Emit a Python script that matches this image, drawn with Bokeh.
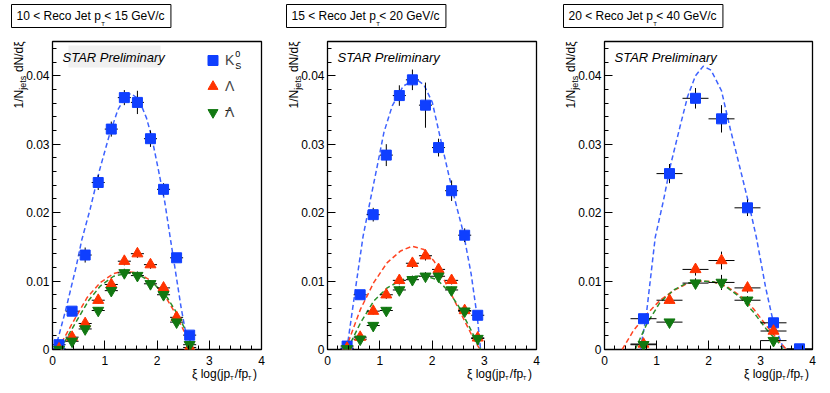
from bokeh.plotting import figure
from bokeh.models import Range1d, FixedTicker, Label, Legend, LegendItem, BoxAnnotation
from bokeh.layouts import row
from bokeh.embed import file_html
from bokeh.resources import INLINE

FONT = "Liberation Sans"

# ---------------- axes ----------------
x_major_ticks = [0, 1, 2, 3, 4]
x_tick_labels = ["0", "1", "2", "3", "4"]
x_minor_ticks = [0.2, 0.4, 0.6, 0.8, 1.2, 1.4, 1.6, 1.8, 2.2, 2.4, 2.6, 2.8, 3.2, 3.4, 3.6, 3.8]
y_major_ticks = [0, 0.01, 0.02, 0.03, 0.04]
y_tick_labels = ["0", "0.01", "0.02", "0.03", "0.04"]
y_minor_ticks = [0.002, 0.004, 0.006, 0.008, 0.012, 0.014, 0.016, 0.018, 0.022, 0.024,
                 0.026, 0.028, 0.032, 0.034, 0.036, 0.038, 0.042, 0.044]

panel_titles = ["10 < Reco Jet p  < 15 GeV/c",
                "15 < Reco Jet p  < 20 GeV/c",
                "20 < Reco Jet p  < 40 GeV/c"]

# ---------------- panel 1: 10 < pT < 15 ----------------
p1_xi = [0.125, 0.375, 0.625, 0.875, 1.125, 1.375, 1.625, 1.875, 2.125, 2.375, 2.625]
p1_xerr = 0.125
p1_k0s = [0.0007, 0.0056, 0.0138, 0.0244, 0.0322, 0.0368, 0.0361, 0.0308, 0.0234, 0.0134, 0.0021]
p1_k0s_err = [0.0004, 0.0005, 0.0011, 0.0011, 0.0011, 0.0011, 0.0017, 0.0012, 0.0009, 0.0006, 0.0005]
p1_lam = [0.0001, 0.0018, 0.0038, 0.0072, 0.0095, 0.0129, 0.0140, 0.0124, 0.0090, 0.0047, 0.0003]
p1_lam_err = [0.0002, 0.0004, 0.0005, 0.0005, 0.0006, 0.0006, 0.0006, 0.0006, 0.0005, 0.0004, 0.0003]
p1_alam = [0.0000, 0.0012, 0.0030, 0.0057, 0.0086, 0.0112, 0.0108, 0.0096, 0.0080, 0.0040, 0.0007]
p1_alam_err = [0.0002, 0.0004, 0.0005, 0.0005, 0.0006, 0.0006, 0.0006, 0.0005, 0.0005, 0.0004, 0.0003]

p1_fit_k0s_x = [0.05, 0.25, 0.45, 0.56, 0.72, 0.9, 1.08, 1.25, 1.4, 1.5, 1.65, 1.8, 1.9,
                2.02, 2.15, 2.26, 2.36, 2.46, 2.56, 2.63]
p1_fit_k0s_y = [0.0, 0.0057, 0.0120, 0.0160, 0.0205, 0.0262, 0.0311, 0.0350, 0.0370, 0.0374,
                0.0366, 0.0338, 0.0310, 0.0265, 0.0215, 0.0160, 0.0111, 0.0062, 0.0020, 0.0]
p1_fit_lam_x = [0.1, 0.377, 0.664, 0.919, 1.17, 1.365, 1.62, 1.876, 2.13, 2.32, 2.51, 2.67]
p1_fit_lam_y = [0.0, 0.0038, 0.0076, 0.0098, 0.0111, 0.01145, 0.0112, 0.0101, 0.0081, 0.0057, 0.0028, 0.0]
p1_fit_alam_x = [0.15, 0.41, 0.695, 0.919, 1.17, 1.46, 1.68, 1.94, 2.195, 2.39, 2.58, 2.70]
p1_fit_alam_y = [0.0, 0.0035, 0.0072, 0.0093, 0.0107, 0.0112, 0.0108, 0.0096, 0.0076, 0.0052, 0.0023, 0.0]

# ---------------- panel 2: 15 < pT < 20 ----------------
p2_xi = [0.375, 0.625, 0.875, 1.125, 1.375, 1.625, 1.875, 2.125, 2.375, 2.625, 2.875]
p2_xerr = 0.125
p2_k0s = [0.0005, 0.0080, 0.0197, 0.0284, 0.0371, 0.0394, 0.0357, 0.0295, 0.0232, 0.0167, 0.0050]
p2_k0s_err = [0.0004, 0.0005, 0.0010, 0.0016, 0.0015, 0.0015, 0.0033, 0.0013, 0.0015, 0.0010, 0.0005]
p2_lam = [0.0002, 0.0018, 0.0056, 0.0080, 0.0101, 0.0126, 0.0137, 0.0117, 0.0101, 0.0057, 0.0017]
p2_lam_err = [0.0002, 0.0004, 0.0005, 0.0006, 0.0006, 0.0007, 0.0007, 0.0007, 0.0006, 0.0005, 0.0004]
p2_alam = [0.0001, 0.0015, 0.0035, 0.0057, 0.0087, 0.0102, 0.0107, 0.0107, 0.0087, 0.0056, 0.0016]
p2_alam_err = [0.0002, 0.0004, 0.0005, 0.0005, 0.0006, 0.0006, 0.0006, 0.0006, 0.0005, 0.0004, 0.0003]

p2_fit_k0s_x = [0.37, 0.5, 0.68, 0.824, 0.952, 1.079, 1.239, 1.45, 1.7, 1.85, 2.006, 2.165,
                2.324, 2.484, 2.60, 2.75, 2.87, 2.93]
p2_fit_k0s_y = [0.0, 0.0070, 0.0165, 0.0220, 0.0268, 0.0317, 0.0356, 0.0385, 0.0395, 0.0386,
                0.0361, 0.0307, 0.0254, 0.0205, 0.0171, 0.0110, 0.0045, 0.0]
p2_fit_lam_x = [0.345, 0.632, 0.887, 1.143, 1.40, 1.62, 1.845, 2.04, 2.23, 2.42, 2.61, 2.80, 2.92]
p2_fit_lam_y = [0.0, 0.0059, 0.0098, 0.0127, 0.0144, 0.0151, 0.0146, 0.0129, 0.0102, 0.0073, 0.0044, 0.0015, 0.0]
p2_fit_alam_x = [0.38, 0.632, 0.887, 1.143, 1.40, 1.655, 1.845, 2.10, 2.32, 2.51, 2.71, 2.93]
p2_fit_alam_y = [0.0, 0.0039, 0.0071, 0.0090, 0.0101, 0.0107, 0.0108, 0.0102, 0.0085, 0.0063, 0.0034, 0.0]

# ---------------- panel 3: 20 < pT < 40 ----------------
p3_xi = [0.75, 1.25, 1.75, 2.25, 2.75, 3.25, 3.75]
p3_xerr = 0.25
p3_k0s = [0.0045, 0.0257, 0.0367, 0.0337, 0.0207, 0.0039, 0.0001]
p3_k0s_err = [0.0006, 0.0014, 0.0015, 0.0020, 0.0012, 0.0006, 0.0002]
p3_xi_v0 = [0.75, 1.25, 1.75, 2.25, 2.75, 3.25]
p3_lam = [0.0008, 0.0072, 0.0117, 0.0130, 0.0090, 0.0027]
p3_lam_err = [0.0003, 0.0005, 0.0009, 0.0013, 0.0007, 0.0005]
p3_alam = [0.0007, 0.0040, 0.0097, 0.0098, 0.0072, 0.0013]
p3_alam_err = [0.0003, 0.0004, 0.0007, 0.0011, 0.0006, 0.0004]

p3_fit_k0s_x = [0.69, 0.8, 0.976, 1.135, 1.263, 1.45, 1.6, 1.75, 1.9, 2.05, 2.25, 2.41, 2.6,
                2.79, 2.92, 3.1, 3.25, 3.45]
p3_fit_k0s_y = [0.0, 0.0048, 0.0164, 0.0218, 0.0267, 0.0325, 0.0370, 0.0400, 0.0414, 0.0408,
                0.0378, 0.0325, 0.0267, 0.0208, 0.0164, 0.0090, 0.0039, 0.0]
p3_fit_lam_x = [0.34, 0.56, 0.817, 1.07, 1.33, 1.58, 1.84, 2.09, 2.35, 2.60, 2.86, 3.11, 3.37, 3.50]
p3_fit_lam_y = [0.0, 0.0028, 0.0052, 0.0072, 0.0086, 0.0096, 0.0100, 0.0099, 0.0092, 0.0079,
                0.0060, 0.0035, 0.0011, 0.0]
p3_fit_alam_x = [0.59, 0.817, 1.07, 1.33, 1.58, 1.84, 2.09, 2.35, 2.60, 2.86, 3.11, 3.37, 3.43]
p3_fit_alam_y = [0.0, 0.0038, 0.0069, 0.0087, 0.0097, 0.0100, 0.0099, 0.0091, 0.0077, 0.0055,
                 0.0030, 0.0008, 0.0]

K0S_COLOR = "#0f3fff"
LAM_COLOR = "#ff3300"
ALAM_COLOR = "#117811"
K0S_FIT = "#3d62ff"
LAM_FIT = "#ff4422"
ALAM_FIT = "#2a8f2a"

FT = 41     # frame top (canvas px)
FB = 349    # frame bottom (canvas px)


def frame_text(p, x, y, text, size="12px", style="normal"):
    p.add_layout(Label(x=x, y=y, x_units="screen", y_units="screen", text=text,
                       text_font=FONT, text_font_size=size, text_font_style=style,
                       text_color="black", text_align="left", text_baseline="middle"))


def side_text(p, side, x, y, text, size="12px", angle=0.0, **kw):
    args = dict(x=x, y=y, x_units="canvas", y_units="canvas", text=text, angle=angle,
                text_font=FONT, text_font_size=size, text_color="black",
                text_align="left", text_baseline="middle")
    args.update(kw)
    p.add_layout(Label(**args), side)


def error_bars(p, x, y, yerr, xerr):
    p.segment(x0=[a - xerr for a in x], y0=y, x1=[a + xerr for a in x], y1=y,
              line_color="black", line_width=1)
    p.segment(x0=x, y0=[b - e for b, e in zip(y, yerr)], x1=x, y1=[b + e for b, e in zip(y, yerr)],
              line_color="black", line_width=1)


def make_panel(title, xi, xerr, k0s, k0s_err, xv, lam, lam_err, alam, alam_err, fits,
               width, bl, br, legend=False, grey=False):
    p = figure(width=width, height=393, x_range=Range1d(0, 4), y_range=Range1d(0, 0.045),
               output_backend="svg", toolbar_location=None, title=None,
               min_border_left=bl, min_border_right=br, min_border_top=FT,
               min_border_bottom=393 - FB,
               background_fill_color="white", border_fill_color="white")
    p.xgrid.visible = False
    p.ygrid.visible = False
    p.outline_line_color = "black"
    p.outline_line_width = 1.3
    xa = p.xaxis[0]
    ya = p.yaxis[0]
    xa.ticker = FixedTicker(ticks=x_major_ticks, minor_ticks=x_minor_ticks)
    ya.ticker = FixedTicker(ticks=y_major_ticks, minor_ticks=y_minor_ticks)
    xa.major_label_overrides = dict(zip(x_major_ticks, x_tick_labels))
    ya.major_label_overrides = dict(zip(y_major_ticks, y_tick_labels))
    for ax in (xa, ya):
        ax.axis_line_color = None
        ax.major_tick_out = 0
        ax.minor_tick_out = 0
        ax.major_tick_line_color = "black"
        ax.minor_tick_line_color = "black"
        ax.major_label_text_font = FONT
        ax.major_label_text_font_size = "12px"
        ax.major_label_text_color = "black"
    xa.major_tick_in = 9
    xa.minor_tick_in = 4
    ya.major_tick_in = 8
    ya.minor_tick_in = 4
    xa.major_label_standoff = 6
    ya.major_label_standoff = 3

    if grey:
        p.add_layout(BoxAnnotation(left=16, right=108, top=304, bottom=282,
                                   left_units="screen", right_units="screen",
                                   top_units="screen", bottom_units="screen",
                                   fill_color="#f0f0f0", fill_alpha=1.0, line_color=None,
                                   level="underlay"))

    for (fx, fy, col) in fits:
        p.line(fx, fy, line_color=col, line_width=1.5, line_dash="5 3")

    error_bars(p, xi, k0s, k0s_err, xerr)
    error_bars(p, xv, lam, lam_err, xerr)
    error_bars(p, xv, alam, alam_err, xerr)

    r_k = p.scatter(xi, k0s, marker="square", size=10, fill_color=K0S_COLOR, line_color=K0S_COLOR)
    r_l = p.scatter(xv, lam, marker="triangle", size=11, fill_color=LAM_COLOR, line_color=LAM_COLOR)
    r_a = p.scatter(xv, alam, marker="inverted_triangle", size=11, fill_color=ALAM_COLOR,
                    line_color=ALAM_COLOR)

    # title box (above the frame)
    side_text(p, "above", bl - 41, 27, title, size="12px", text_baseline="bottom",
              border_line_color="black", border_line_width=1, background_fill_color="white",
              padding=dict(left=5, right=3, top=4, bottom=5))
    side_text(p, "above", bl + 48.7, 23.6, "T", size="6px")

    # STAR Preliminary
    frame_text(p, 10, 291.8, "STAR Preliminary", size="13px", style="italic")

    # x-axis title: xi log(jpT/fpT)
    side_text(p, "below", bl + 139.5, 373.5, "\u03be log(jp\u2009\u2009/fp\u2009\u2009)")
    side_text(p, "right", bl + 177.6, 377.4, "T", size="6px")
    side_text(p, "right", bl + 195.3, 377.4, "T", size="6px")

    # y-axis title: 1/N_jets dN/dxi (rotated)
    a = 1.5707963
    side_text(p, "left", bl - 33.5, 108,
              "1/N\u2009\u2009\u2009\u2009\u2009\u2009 dN/d\u03be", angle=a)
    side_text(p, "right", bl - 29.9, 89.3, "jets", size="9px", angle=a)

    if legend:
        lg = Legend(items=[LegendItem(label="K", renderers=[r_k]),
                           LegendItem(label="\u039b", renderers=[r_l]),
                           LegendItem(label="\u039b", renderers=[r_a])],
                    location=(148, 224), orientation="vertical",
                    glyph_width=25, glyph_height=26, label_height=26, label_standoff=0,
                    spacing=0, padding=0, margin=0,
                    border_line_color=None, background_fill_alpha=0,
                    label_text_font=FONT, label_text_font_size="14px",
                    label_text_baseline="middle")
        p.add_layout(lg)
        frame_text(p, 182.8, 295.1, "0", size="9px")
        frame_text(p, 182.8, 283.6, "S", size="9px")
        frame_text(p, 173.3, 232.7, "\u203e", size="14px")
    return p


fig1 = make_panel(panel_titles[0], p1_xi, p1_xerr, p1_k0s, p1_k0s_err, p1_xi,
                  p1_lam, p1_lam_err, p1_alam, p1_alam_err,
                  [(p1_fit_k0s_x, p1_fit_k0s_y, K0S_FIT), (p1_fit_lam_x, p1_fit_lam_y, LAM_FIT),
                   (p1_fit_alam_x, p1_fit_alam_y, ALAM_FIT)],
                  283, 52, 22, legend=True, grey=True)
fig2 = make_panel(panel_titles[1], p2_xi, p2_xerr, p2_k0s, p2_k0s_err, p2_xi,
                  p2_lam, p2_lam_err, p2_alam, p2_alam_err,
                  [(p2_fit_k0s_x, p2_fit_k0s_y, K0S_FIT), (p2_fit_lam_x, p2_fit_lam_y, LAM_FIT),
                   (p2_fit_alam_x, p2_fit_alam_y, ALAM_FIT)],
                  276, 44, 23)
fig3 = make_panel(panel_titles[2], p3_xi, p3_xerr, p3_k0s, p3_k0s_err, p3_xi_v0,
                  p3_lam, p3_lam_err, p3_alam, p3_alam_err,
                  [(p3_fit_k0s_x, p3_fit_k0s_y, K0S_FIT), (p3_fit_lam_x, p3_fit_lam_y, LAM_FIT),
                   (p3_fit_alam_x, p3_fit_alam_y, ALAM_FIT)],
                  271, 45, 17)

layout = row(fig1, fig2, fig3)
open("out.html", "w").write(file_html(layout, INLINE))
